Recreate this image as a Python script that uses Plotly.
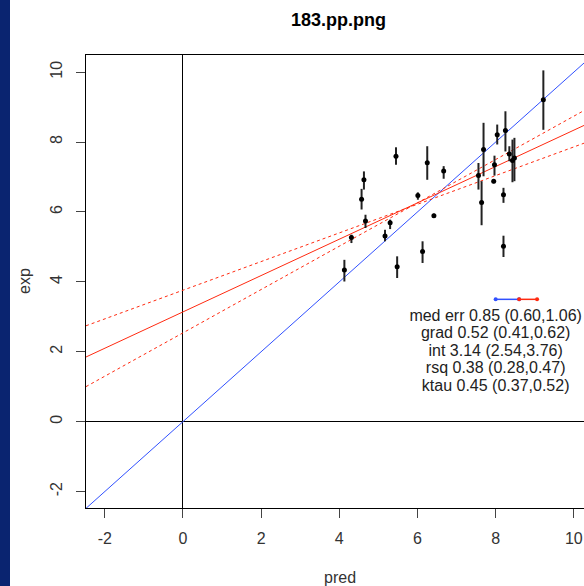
import numpy as np
import plotly.graph_objects as go

# Predicted vs experimental values with experimental uncertainty
pred = [4.13, 4.31, 4.57, 4.63, 4.67, 5.17, 5.30, 5.45, 5.48, 6.01, 6.13, 6.25, 6.42, 6.67,
        7.56, 7.64, 7.69, 7.95, 7.97, 8.04, 8.20, 8.20, 8.25, 8.35, 8.43, 8.48, 9.22]
exp = [4.34, 5.27, 6.36, 6.92, 5.74, 5.31, 5.69, 7.59, 4.43, 6.47, 4.87, 7.41, 5.89, 7.17,
       7.04, 6.27, 7.79, 6.88, 7.35, 8.21, 6.49, 5.02, 8.33, 7.66, 7.47, 7.54, 9.21]
exp_lo = [4.01, 5.11, 6.07, 6.64, 5.54, 5.16, 5.51, 7.35, 4.11, 6.35, 4.54, 6.92, 5.83, 6.95,
          6.64, 5.62, 7.02, 6.82, 7.04, 7.93, 6.26, 4.71, 7.73, 7.45, 6.85, 6.88, 8.35]
exp_hi = [4.63, 5.35, 6.66, 7.16, 5.92, 5.49, 5.78, 7.85, 4.73, 6.56, 5.16, 7.88, 5.95, 7.31,
          7.40, 6.88, 8.55, 6.94, 7.61, 8.50, 6.69, 5.32, 8.88, 7.88, 8.07, 8.12, 10.05]

# Regression summary
grad, grad_lo, grad_hi = 0.52, 0.41, 0.62
intercept, int_lo, int_hi = 3.14, 2.54, 3.76
med_err, med_err_lo, med_err_hi = 0.85, 0.60, 1.06
stats_labels = [
    "med err 0.85 (0.60,1.06)",
    "grad 0.52 (0.41,0.62)",
    "int 3.14 (2.54,3.76)",
    "rsq 0.38 (0.28,0.47)",
    "ktau 0.45 (0.37,0.52)",
]
stats_y = [3.0, 2.5, 2.0, 1.5, 1.0]
stats_x = 8.0
med_err_y = 3.5

tick_vals = [-2, 0, 2, 4, 6, 8, 10]
tick_text = ["-2", "0", "2", "4", "6", "8", "10"]
x_range = [-2.48, 10.26]
y_range = [-2.47, 10.49]

FONT = "Liberation Sans, Arial, sans-serif"
BLUE = "#3050ff"
RED = "#ff2a10"

fig = go.Figure()

xs = np.array([x_range[0], 10.6])

# identity line
fig.add_trace(go.Scatter(x=xs, y=xs, mode="lines", line=dict(color=BLUE, width=1),
                         hoverinfo="skip"))
# fitted line and its confidence lines
fig.add_trace(go.Scatter(x=xs, y=intercept + grad * xs, mode="lines",
                         line=dict(color=RED, width=1), hoverinfo="skip"))
fig.add_trace(go.Scatter(x=xs, y=int_hi + grad_lo * xs, mode="lines",
                         line=dict(color=RED, width=1, dash="3px,3px"), hoverinfo="skip"))
fig.add_trace(go.Scatter(x=xs, y=int_lo + grad_hi * xs, mode="lines",
                         line=dict(color=RED, width=1, dash="3px,3px"), hoverinfo="skip"))

# data points with error bars
err_plus = [h - e for h, e in zip(exp_hi, exp)]
err_minus = [e - l for e, l in zip(exp, exp_lo)]
fig.add_trace(go.Scatter(
    x=pred, y=exp, mode="markers",
    marker=dict(color="black", size=5),
    error_y=dict(type="data", symmetric=False, array=err_plus, arrayminus=err_minus,
                 color="#222", thickness=2, width=0),
))

# median error indicator
fig.add_trace(go.Scatter(x=[stats_x, stats_x + med_err_lo], y=[med_err_y, med_err_y],
                         mode="lines+markers", line=dict(color=BLUE, width=1.5),
                         marker=dict(color=BLUE, size=4)))
fig.add_trace(go.Scatter(x=[stats_x + med_err_lo, stats_x + med_err_hi], y=[med_err_y, med_err_y],
                         mode="lines+markers", line=dict(color=RED, width=1.5),
                         marker=dict(color=RED, size=4)))

# summary text
fig.add_trace(go.Scatter(x=[stats_x] * len(stats_labels), y=stats_y, mode="text",
                         text=stats_labels, textposition="middle center",
                         textfont=dict(family=FONT, size=16, color="#222")))

axis_common = dict(
    tickvals=tick_vals, ticktext=tick_text, ticks="outside", ticklen=9, tickwidth=1,
    tickcolor="#444", tickfont=dict(family=FONT, size=16, color="#333"),
    showgrid=False, zeroline=True, zerolinecolor="black", zerolinewidth=1,
    showline=True, linecolor="black", linewidth=1,
)

fig.update_layout(
    width=584, height=586,
    margin=dict(l=86, r=0, t=55, b=78),
    paper_bgcolor="white", plot_bgcolor="white",
    showlegend=False,
    xaxis=dict(range=x_range, mirror=True, ticklabelstandoff=7, **axis_common),
    yaxis=dict(range=y_range, mirror=False, tickangle=-90, ticklabelstandoff=8, **axis_common),
    shapes=[dict(type="rect", xref="paper", yref="paper",
                 x0=-86 / 498, x1=-76 / 498, y0=-78 / 453, y1=(453 + 55) / 453,
                 fillcolor="#0a2470", line=dict(width=0), layer="below")],
    annotations=[
        dict(text="<b>183.pp.png</b>", xref="paper", yref="paper", x=(338 - 86) / 498,
             y=1 + 35 / 453, showarrow=False, font=dict(family=FONT, size=18, color="black"),
             xanchor="center", yanchor="middle"),
        dict(text="pred", xref="paper", yref="paper", x=(340 - 86) / 498, y=-69 / 453,
             showarrow=False, font=dict(family=FONT, size=16, color="#333"),
             xanchor="center", yanchor="middle"),
        dict(text="exp", xref="paper", yref="paper", x=(24 - 86) / 498, y=(508 - 281) / 453,
             showarrow=False, textangle=-90, font=dict(family=FONT, size=16, color="#333"),
             xanchor="center", yanchor="middle"),
    ],
)

fig.write_html("out.html")
